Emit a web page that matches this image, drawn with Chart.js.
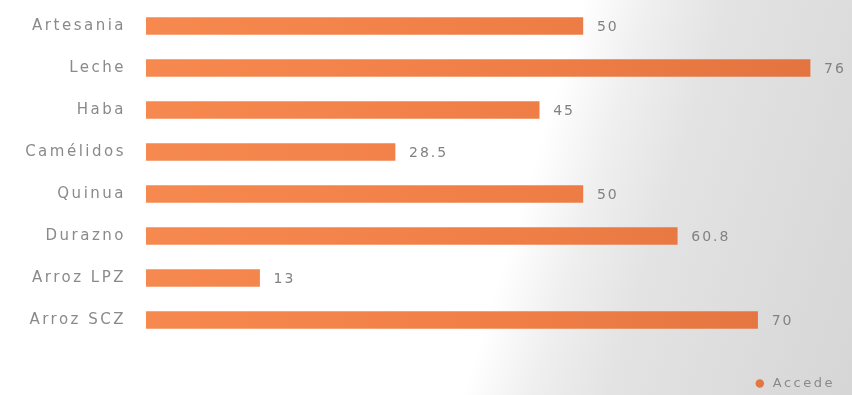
<!DOCTYPE html>
<html>
<head>
<meta charset="utf-8">
<script src="https://cdn.jsdelivr.net/npm/chart.js@4"></script>
<style>
  html, body { margin: 0; padding: 0; }
  body {
    width: 852px; height: 395px; overflow: hidden;
    background: linear-gradient(107deg, #ffffff 0%, #ffffff 60%, #efeff0 67%, #e3e3e4 75%, #dcdcdd 88%, #d6d6d7 100%);
  }
  canvas { display: block; }
</style>
</head>
<body>
<canvas id="chart" width="852" height="395"></canvas>
<script>
// Productos y porcentaje que accede
const categories = ['Artesania', 'Leche', 'Haba', 'Camélidos', 'Quinua', 'Durazno', 'Arroz LPZ', 'Arroz SCZ'];
const accede = [50, 76, 45, 28.5, 50, 60.8, 13, 70];
const seriesName = 'Accede';

const LABEL_GREY = '#8a8a8a';
const FONT = 'DejaVu Sans';

// wide lettering for the axis and legend texts
const spacing = {
  id: 'spacing',
  beforeUpdate(chart) { chart.ctx.letterSpacing = '2.5px'; },
  beforeLayout(chart) { chart.ctx.letterSpacing = '2.5px'; },
  beforeDraw(chart) { chart.ctx.letterSpacing = '2.5px'; }
};

// value written just past the end of each bar
const valueLabels = {
  id: 'valueLabels',
  afterDatasetsDraw(chart) {
    const ctx = chart.ctx;
    const meta = chart.getDatasetMeta(0);
    ctx.save();
    ctx.letterSpacing = '2px';
    ctx.font = '14px "' + FONT + '"';
    ctx.fillStyle = '#828282';
    ctx.textAlign = 'left';
    ctx.textBaseline = 'middle';
    meta.data.forEach((bar, i) => {
      const v = chart.data.datasets[0].data[i];
      ctx.fillText(String(v), bar.x + 14, bar.y + 1);
    });
    ctx.restore();
  }
};

new Chart(document.getElementById('chart'), {
  type: 'bar',
  data: {
    labels: categories,
    datasets: [{
      label: seriesName,
      data: accede,
      backgroundColor(context) {
        const area = context.chart.chartArea;
        if (!area) return '#f07f47';
        const g = context.chart.ctx.createLinearGradient(area.left, 0, area.right, 0);
        g.addColorStop(0, '#f6894f');
        g.addColorStop(0.5, '#f07f47');
        g.addColorStop(1, '#e2733f');
        return g;
      },
      borderWidth: 0,
      barThickness: 17
    }]
  },
  options: {
    indexAxis: 'y',
    responsive: false,
    animation: false,
    devicePixelRatio: 1,
    layout: { padding: { top: 5, right: 7, bottom: -5, left: 0 } },
    scales: {
      x: {
        min: 0, max: 80,
        grid: { display: false },
        border: { display: false },
        ticks: { display: false },
        afterFit(scale) { scale.height = 26; }
      },
      y: {
        grid: { display: false, drawTicks: false },
        border: { display: false },
        ticks: {
          color: LABEL_GREY,
          padding: 20,
          font: { family: FONT, size: 15 }
        },
        afterFit(scale) {
          scale.width = 146;
          scale.paddingTop = 0;
          scale.paddingBottom = 0;
        }
      }
    },
    plugins: {
      legend: {
        position: 'bottom',
        align: 'end',
        labels: {
          usePointStyle: true,
          pointStyle: 'circle',
          boxWidth: 13,
          boxHeight: 6,
          padding: 10,
          color: LABEL_GREY,
          font: { family: FONT, size: 13 }
        }
      },
      tooltip: { enabled: false }
    }
  },
  plugins: [spacing, valueLabels]
});
</script>
</body>
</html>
